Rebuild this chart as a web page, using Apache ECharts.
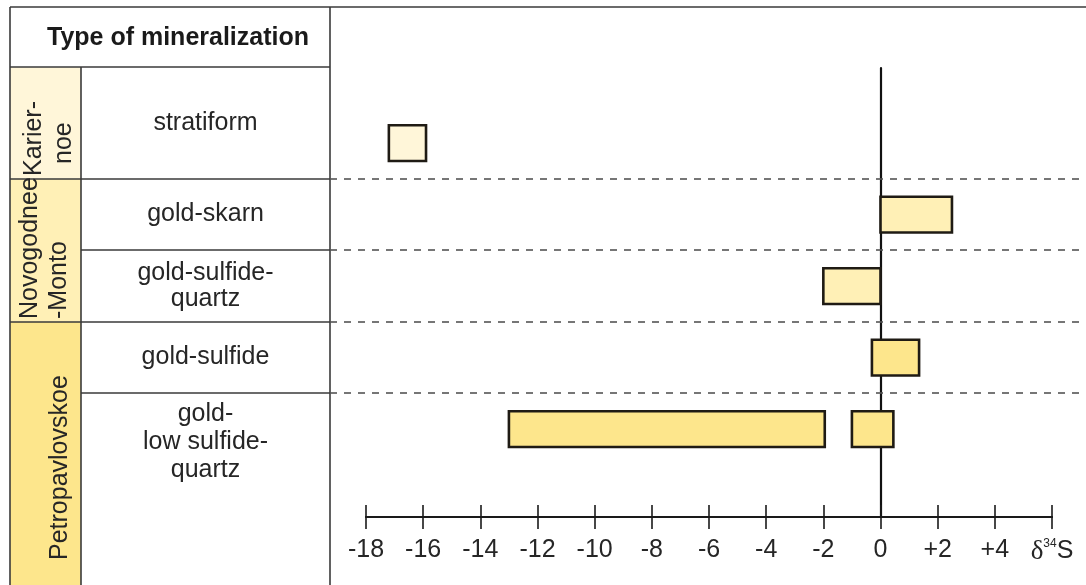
<!DOCTYPE html>
<html>
<head>
<meta charset="utf-8">
<script src="https://cdn.jsdelivr.net/npm/echarts@6/dist/echarts.min.js"></script>
<style>
  html, body { margin: 0; padding: 0; background: #fff; }
  #chart { width: 1086px; height: 585px; }
</style>
</head>
<body>
<div id="chart"></div>
<script>
// δ34S ranges of sulfides by type of mineralization
const headerTitle = 'Type of mineralization';
const mineralTypes = ['stratiform', 'gold-skarn', 'gold-sulfide-\nquartz', 'gold-sulfide', 'gold-\nlow sulfide-\nquartz'];
const deposits = ['Karier-\nnoe', 'Novogodnee\n-Monto', 'Petropavlovskoe'];
const depositFirstRow = [1, 2, 4];
const depositLastRow = [1, 3, 5];
const depositColors = ['#fff6d9', '#fff0b6', '#fde68c'];
// [from, to, row (1-based mineral type), deposit index]
const rangeFrom = [-17.2, 0, -2.0, -0.3, -13.0, -1.0];
const rangeTo = [-15.9, 2.5, 0, 1.35, -1.95, 0.45];
const rangeRow = [1, 2, 3, 4, 5, 5];
const rangeDeposit = [0, 1, 1, 2, 2, 2];
const tickMin = -18, tickMax = 6, tickStep = 2;

const FONT = '"Liberation Sans", Arial, sans-serif';
const FS = 25;
const LINE = '#3a3a3a';
const TEXT = '#262626';

const chart = echarts.init(document.getElementById('chart'), null, { renderer: 'canvas' });

const seriesData = rangeFrom.map((f, i) => [f, rangeTo[i], rangeRow[i], rangeDeposit[i]]);

function tickLabel(v) {
  if (v === tickMax) return '{d|δ}{sup|34}{s|S}';
  if (v > 0) return '+' + v;
  return String(v);
}

const baseX = {
  type: 'value', min: tickMin, max: tickMax, interval: tickStep,
  position: 'bottom',
  splitLine: { show: false },
  axisLine: { show: true, onZero: false, lineStyle: { color: '#1a1a1a', width: 2 } }
};

chart.setOption({
  animation: false,
  backgroundColor: '#ffffff',
  grid: { left: 366, right: 34, top: 68, bottom: 68, containLabel: false },
  xAxis: [
    Object.assign({}, baseX, {
      axisTick: { show: true, inside: false, length: 12, lineStyle: { color: '#1a1a1a', width: 1.6 } },
      axisLabel: {
        show: true, margin: 21, color: TEXT, fontFamily: FONT, fontSize: FS,
        showMinLabel: true, showMaxLabel: true,
        formatter: tickLabel,
        rich: {
          d: { fontFamily: '"Liberation Serif", "DejaVu Serif", serif', fontSize: 27, color: TEXT },
          sup: { fontFamily: FONT, fontSize: 12, color: TEXT, verticalAlign: 'top', lineHeight: 14 },
          s: { fontFamily: FONT, fontSize: FS, color: TEXT }
        }
      }
    }),
    Object.assign({}, baseX, {
      axisTick: { show: true, inside: true, length: 12, lineStyle: { color: '#1a1a1a', width: 1.6 } },
      axisLabel: { show: false }
    })
  ],
  yAxis: {
    type: 'value', inverse: true, min: -0.05, max: 6.23,
    splitLine: { show: false },
    axisTick: { show: false },
    axisLabel: { show: false },
    axisLine: { show: true, onZero: true, onZeroAxisIndex: 0, lineStyle: { color: '#111', width: 2.2 } }
  },
  series: [{
    type: 'custom',
    xAxisIndex: 0,
    encode: { x: [0, 1], y: 2 },
    data: seriesData,
    z: 5,
    renderItem: function (params, api) {
      const a = api.coord([api.value(0), api.value(2)]);
      const b = api.coord([api.value(1), api.value(2)]);
      const h = api.size([0, 1])[1] * 0.5;
      return {
        type: 'rect',
        shape: { x: a[0], y: a[1] - h / 2, width: b[0] - a[0], height: h },
        style: { fill: depositColors[api.value(3)], stroke: '#1f1b14', lineWidth: 2.6 }
      };
    }
  }]
});

// Table on the left and row separators, placed on the same vertical scale as the bars
const yPix = v => chart.convertToPixel({ yAxisIndex: 0 }, v);
const W = 1086, H = 585;
const xL = 10, xMid = 81, xR = 330, yTop = 7, yHead = 67;
const bounds = [yHead];
for (let r = 1; r <= mineralTypes.length - 1; r++) bounds.push(Math.round(yPix(r + 0.5)));
bounds.push(H);

const g = [];
// deposit column fills
deposits.forEach((d, i) => {
  const y0 = bounds[depositFirstRow[i] - 1];
  const y1 = bounds[depositLastRow[i]];
  g.push({ type: 'rect', shape: { x: xL, y: y0, width: xMid - xL, height: y1 - y0 },
           style: { fill: depositColors[i] }, z: 1 });
});

const line = (x1, y1, x2, y2, dash) => g.push({
  type: 'line', shape: { x1, y1, x2, y2 }, z: 3,
  style: { stroke: dash ? '#555' : LINE, lineWidth: 1.6, lineDash: dash ? [7, 7] : null }
});

line(xL, yTop, W, yTop);
line(xL, yTop, xL, H);
line(xR, yTop, xR, H);
line(xMid, yHead, xMid, H);
line(xL, yHead, xR, yHead);
for (let r = 1; r < mineralTypes.length; r++) {
  const y = bounds[r];
  const groupEdge = depositFirstRow.indexOf(r + 1) >= 0;
  line(groupEdge ? xL : xMid, y, xR, y);
  line(xR, y, W, y, true);
}

// header
g.push({ type: 'text', x: (xL + xR) / 2 + 8, y: (yTop + yHead) / 2 + 1, z: 4,
  style: { text: headerTitle, fontFamily: FONT, fontSize: FS, fontWeight: 'bold', fill: '#1a1a1a',
           align: 'center', verticalAlign: 'middle' } });

// mineralization type names
mineralTypes.forEach((t, i) => {
  const y0 = bounds[i], y1 = bounds[i + 1];
  const last = i === mineralTypes.length - 1;
  g.push({ type: 'text', x: (xMid + xR) / 2, y: last ? y0 + 7 : (y0 + y1) / 2, z: 4,
    style: { text: t, fontFamily: FONT, fontSize: FS, lineHeight: last ? 28 : 26, fill: TEXT,
             align: 'center', verticalAlign: last ? 'top' : 'middle' } });
});

// deposit names, written bottom to top
const depositLines = [
  [['Karier-', 34, bounds[1] - 3], ['noe', 64, bounds[1] - 15]],
  [['Novogodnee', 30, bounds[3] - 3], ['-Monto', 59, bounds[3] - 3]],
  [['Petropavlovskoe', 60, H - 25]]
];
depositLines.forEach(list => list.forEach(([txt, x, y]) => {
  g.push({ type: 'text', x, y, rotation: Math.PI / 2, z: 4,
    style: { text: txt, fontFamily: FONT, fontSize: FS, fill: TEXT, align: 'left', verticalAlign: 'middle' } });
}));

chart.setOption({ graphic: { elements: g } });
</script>
</body>
</html>
